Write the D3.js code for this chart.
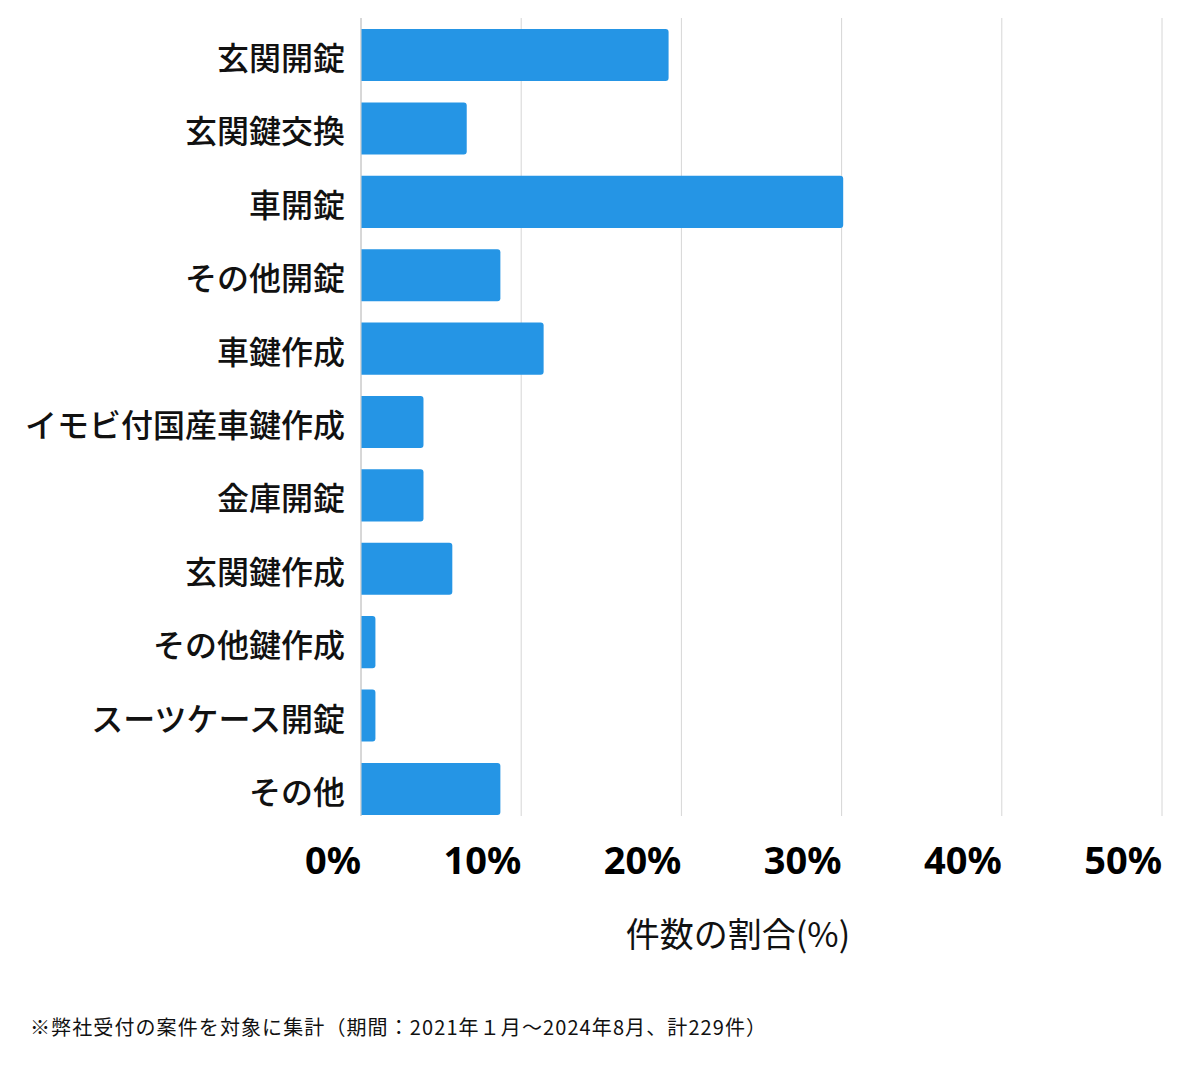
<!DOCTYPE html>
<html><head><meta charset="utf-8">
<script src="https://cdn.jsdelivr.net/npm/d3@7"></script>
<style>
body{margin:0;background:#fff;}
svg{display:block;font-family:"Noto Sans CJK JP","Noto Sans",sans-serif;}
</style></head>
<body>
<svg id="chart" width="1200" height="1069"></svg>
<script>
const categories = ["玄関開錠","玄関鍵交換","車開錠","その他開錠","車鍵作成","イモビ付国産車鍵作成","金庫開錠","玄関鍵作成","その他鍵作成","スーツケース開錠","その他"];
const values = [19.2, 6.6, 30.1, 8.7, 11.4, 3.9, 3.9, 5.7, 0.9, 0.9, 8.7];
const tickValues = [0, 10, 20, 30, 40, 50];
const tickLabels = ["0%","10%","20%","30%","40%","50%"];
const axisTitle = "件数の割合(%)";
const footnote = "※弊社受付の案件を対象に集計（期間：2021年１月〜2024年8月、計229件）";

const svg = d3.select("#chart");
const x = d3.scaleLinear().domain([0, 50]).range([361, 1162]);
const y = d3.scaleBand().domain(categories).range([18, 826]).paddingInner(0.29).paddingOuter(0.15);
const gridTop = 18, gridBottom = 816;

// gridlines
svg.append("g").selectAll("line").data(tickValues).join("line")
  .attr("x1", d => x(d)).attr("x2", d => x(d))
  .attr("y1", gridTop).attr("y2", gridBottom)
  .attr("stroke", d => d === 0 ? "#b0b0b0" : "#d6d6d6")
  .attr("stroke-width", 1);

// bars with rounded right corners
const r = 3;
svg.append("g").selectAll("path").data(values).join("path")
  .attr("fill", "#2595e5")
  .attr("d", (d, i) => {
    const x0 = x(0) + 0.5, x1 = x(d), y0 = y(categories[i]), h = y.bandwidth();
    const rr = Math.min(r, (x1 - x0) / 2);
    return `M${x0},${y0}H${x1 - rr}Q${x1},${y0} ${x1},${y0 + rr}V${y0 + h - rr}Q${x1},${y0 + h} ${x1 - rr},${y0 + h}H${x0}Z`;
  });

// category labels
svg.append("g").selectAll("text").data(categories).join("text")
  .attr("x", 345)
  .attr("y", d => y(d) + y.bandwidth() / 2)
  .attr("dy", "0.47em")
  .attr("text-anchor", "end")
  .attr("font-size", 32)
  .attr("font-weight", 500)
  .attr("fill", "#111")
  .text(d => d);

// tick labels
svg.append("g").selectAll("text").data(tickValues).join("text")
  .attr("x", d => x(d))
  .attr("y", 874)
  .attr("text-anchor", "end")
  .attr("font-family", "'Noto Sans', sans-serif")
  .attr("font-size", 38)
  .attr("font-weight", 700)
  .attr("fill", "#000")
  .text((d, i) => tickLabels[i]);

// axis title
svg.append("text")
  .attr("x", 738).attr("y", 947)
  .attr("text-anchor", "middle")
  .attr("font-size", 34)
  .attr("fill", "#111")
  .text(axisTitle);

// footnote
svg.append("text")
  .attr("x", 30).attr("y", 1035)
  .attr("font-size", 20)
  .attr("letter-spacing", 1.1)
  .attr("fill", "#111")
  .text(footnote);
</script>
</body></html>
